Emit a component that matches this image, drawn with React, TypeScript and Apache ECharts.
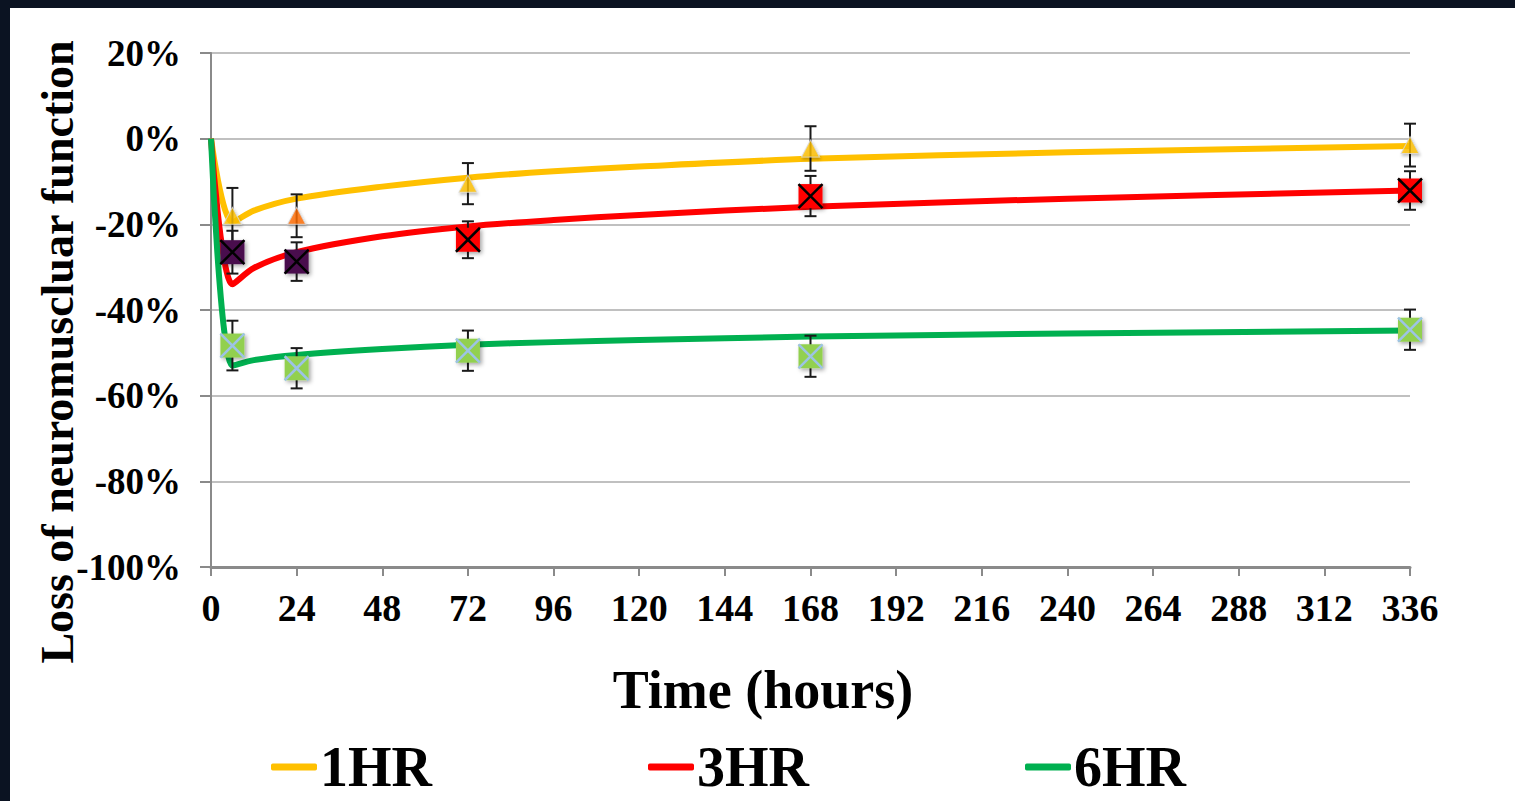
import React, { useEffect, useRef } from "react";
import * as echarts from "echarts";

// Tick values
const xTicks = [0, 24, 48, 72, 96, 120, 144, 168, 192, 216, 240, 264, 288, 312, 336];

// Measured time points (hours)
const hours = [6, 24, 72, 168, 336];

// 1HR measurements
const oneHrMean = [-18, -18, -10.5, -2.3, -1.5];
const oneHrErr = [6.5, 5, 4.8, 5.2, 5];
const oneHrColors = ["#FFC000", "#FF6A00", "#FFC000", "#FFC000", "#FFC000"];

// 3HR measurements
const threeHrMean = [-26.5, -28.7, -23.6, -13.4, -12.1];
const threeHrErr = [5, 4.5, 4.3, 4.7, 4.5];
const threeHrColors = ["#4A0C4E", "#4A0C4E", "#FF0000", "#FF0000", "#FF0000"];

// 6HR measurements
const sixHrMean = [-48.3, -53.6, -49.5, -50.8, -44.6];
const sixHrErr = [5.8, 4.7, 4.7, 4.8, 4.7];

// Fitted curves
const fitHours = [0, 6, 12, 24, 48, 72, 96, 120, 168, 240, 336];
const oneHrFit = [0, -19.5, -16.8, -14, -11.2, -9.1, -7.6, -6.5, -4.7, -3.2, -1.7];
const threeHrFit = [0, -34, -30.2, -26.5, -22.8, -20.5, -19, -17.8, -15.9, -14, -12.1];
const sixHrFit = [0, -53, -51.7, -50.5, -49.1, -48.1, -47.5, -47, -46.2, -45.5, -44.8];

const FONT = '"Liberation Serif", "Times New Roman", serif';

export default function App() {
  const ref = useRef<HTMLDivElement>(null);

  useEffect(() => {
    const chart = echarts.init(ref.current!, null, { renderer: "svg" });

    const fitLine = (name: string, ys: number[], color: string, z: number) => ({
      type: "line",
      name,
      data: fitHours.map((h, i) => [h, ys[i]]),
      smooth: 0.3,
      symbol: "none",
      showSymbol: false,
      z,
      lineStyle: { color, width: 6 },
      itemStyle: { color },
      silent: true,
    });

    const errBars = (name: string, mean: number[], err: number[]) => ({
      type: "custom",
      name,
      silent: true,
      z: 5,
      data: hours.map((h, i) => [h, mean[i] - err[i], mean[i] + err[i]]),
      encode: { x: 0, y: [1, 2] },
      renderItem: (params: any, api: any) => {
        const lo = api.coord([api.value(0), api.value(1)]);
        const hi = api.coord([api.value(0), api.value(2)]);
        const w = 6;
        const st = { stroke: "#1a1a1a", lineWidth: 2 };
        return {
          type: "group",
          children: [
            { type: "line", shape: { x1: lo[0], y1: lo[1], x2: hi[0], y2: hi[1] }, style: st },
            { type: "line", shape: { x1: hi[0] - w, y1: hi[1], x2: hi[0] + w, y2: hi[1] }, style: st },
            { type: "line", shape: { x1: lo[0] - w, y1: lo[1], x2: lo[0] + w, y2: lo[1] }, style: st },
          ],
        };
      },
    });

    const squares = (name: string, mean: number[], fills: string[], cross: string) => ({
      type: "custom",
      name,
      silent: true,
      z: 6,
      data: hours.map((h, i) => [h, mean[i]]),
      encode: { x: 0, y: 1 },
      renderItem: (params: any, api: any) => {
        const p = api.coord([api.value(0), api.value(1)]);
        const s = 12;
        const i = params.dataIndex;
        return {
          type: "group",
          children: [
            {
              type: "rect",
              shape: { x: p[0] - s, y: p[1] - s, width: 2 * s, height: 2 * s },
              style: {
                fill: fills[i],
                shadowBlur: 4,
                shadowColor: "rgba(0,0,0,0.35)",
                shadowOffsetX: 2,
                shadowOffsetY: 2,
              },
            },
            { type: "line", shape: { x1: p[0] - s, y1: p[1] - s, x2: p[0] + s, y2: p[1] + s }, style: { stroke: cross, lineWidth: 2.5 } },
            { type: "line", shape: { x1: p[0] + s, y1: p[1] - s, x2: p[0] - s, y2: p[1] + s }, style: { stroke: cross, lineWidth: 2.5 } },
          ],
        };
      },
    });

    const option: any = {
      animation: false,
      backgroundColor: "transparent",
      grid: { left: 211, right: 105, top: 53, bottom: 234, containLabel: false },
      xAxis: {
        type: "value",
        min: 0,
        max: 336,
        interval: 24,
        axisLine: { show: true, onZero: false, lineStyle: { color: "#8a8a8a", width: 3 } },
        axisTick: { show: true, inside: false, length: 9, lineStyle: { color: "#8a8a8a", width: 2 } },
        splitLine: { show: false },
        axisLabel: {
          margin: 22,
          color: "#000",
          fontFamily: FONT,
          fontWeight: "bold",
          fontSize: 38,
          formatter: (v: number) => (xTicks.indexOf(v) >= 0 ? String(v) : ""),
        },
      },
      yAxis: {
        type: "value",
        min: -100,
        max: 20,
        interval: 20,
        axisLine: { show: true, onZero: false, lineStyle: { color: "#8a8a8a", width: 2 } },
        axisTick: { show: true, inside: false, length: 11, lineStyle: { color: "#8a8a8a", width: 2 } },
        splitLine: { show: true, lineStyle: { color: "#c0c0c0", width: 2 } },
        axisLabel: {
          margin: 30,
          color: "#000",
          fontFamily: FONT,
          fontWeight: "bold",
          fontSize: 37,
          formatter: "{value}%",
        },
      },
      legend: {
        data: ["1HR", "3HR", "6HR"],
        left: 266,
        top: 733,
        orient: "horizontal",
        icon: "roundRect",
        itemWidth: 46,
        itemHeight: 7,
        itemGap: 216,
        textStyle: {
          color: "#000",
          fontFamily: FONT,
          fontWeight: "bold",
          fontSize: 56,
          lineHeight: 58,
          padding: [0, 0, 0, -2],
        },
        selectedMode: false,
      },
      graphic: [
        {
          type: "text",
          x: 57,
          y: 352,
          rotation: Math.PI / 2,
          style: {
            text: "Loss of neuromuscluar function",
            font: `bold 46px ${FONT}`,
            fill: "#000",
            align: "center",
            verticalAlign: "middle",
            textAlign: "center",
            textVerticalAlign: "middle",
          },
        },
        {
          type: "text",
          x: 763,
          y: 690,
          style: {
            text: "Time (hours)",
            font: `bold 54px ${FONT}`,
            fill: "#000",
            align: "center",
            verticalAlign: "middle",
            textAlign: "center",
            textVerticalAlign: "middle",
          },
        },
      ],
      series: [
        fitLine("1HR", oneHrFit, "#FFC000", 2),
        fitLine("3HR", threeHrFit, "#FF0000", 3),
        fitLine("6HR", sixHrFit, "#00B050", 4),
        errBars("1HR err", oneHrMean, oneHrErr),
        errBars("3HR err", threeHrMean, threeHrErr),
        errBars("6HR err", sixHrMean, sixHrErr),
        {
          type: "scatter",
          name: "1HR pts",
          silent: true,
          z: 6,
          symbol: "triangle",
          symbolSize: [18, 17],
          data: hours.map((h, i) => ({
            value: [h, oneHrMean[i]],
            itemStyle: {
              color: oneHrColors[i],
              borderColor: "#d9d9d9",
              borderWidth: 1,
              shadowBlur: 3,
              shadowColor: "rgba(0,0,0,0.3)",
              shadowOffsetX: 1,
              shadowOffsetY: 2,
            },
          })),
        },
        squares("3HR pts", threeHrMean, threeHrColors, "#000000"),
        squares("6HR pts", sixHrMean, hours.map(() => "#92D050"), "#9DC3E6"),
      ],
    };

    chart.setOption(option);
    return () => chart.dispose();
  }, []);

  return (
    <div
      ref={ref}
      style={{
        position: "fixed",
        left: 0,
        top: 0,
        width: 1515,
        height: 801,
        background:
          "linear-gradient(#0b1322,#0b1322) 0 0 / 100% 8px no-repeat, linear-gradient(#0b1322,#0b1322) 0 0 / 10px 100% no-repeat, #ffffff",
      }}
    />
  );
}
